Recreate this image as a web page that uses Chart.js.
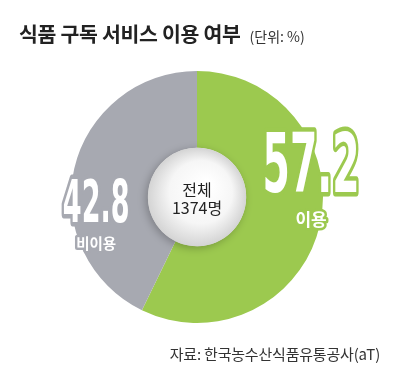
<!DOCTYPE html>
<html>
<head>
<meta charset="utf-8">
<script src="https://cdn.jsdelivr.net/npm/chart.js@4.4.1/dist/chart.umd.min.js"></script>
<style>
  html, body { margin: 0; padding: 0; background: #fff; }
  .wrap { position: relative; width: 400px; height: 387px; font-family: "Noto Sans CJK KR", sans-serif; }
  canvas { position: absolute; left: 0; top: 0; }
  .title { position: absolute; left: 19px; top: 18px; font-size: 20.5px; font-weight: 700; color: #222; letter-spacing: -0.3px; white-space: nowrap; }
  .unit { font-size: 14px; font-weight: 400; color: #333; margin-left: 9px; letter-spacing: 0; }
  .source { position: absolute; right: 20px; top: 343px; font-size: 15px; color: #333; letter-spacing: -0.2px; white-space: nowrap; }
</style>
</head>
<body>
<div class="wrap">
  <canvas id="pieChart" width="400" height="387"></canvas>
  <div class="title">식품 구독 서비스 이용 여부<span class="unit">(단위: %)</span></div>
  <div class="source">자료: 한국농수산식품유통공사(aT)</div>
</div>
<script>
// data
const labels = ['이용', '비이용'];
const values = [57.2, 42.8];
const sliceColors = ['#9cc94f', '#a7a9b1'];
const totalLines = ['전체', '1374명'];

// where the big numbers sit, relative to the pie (fraction of outer radius)
const labelSpots = [
  { dx: 0.905, dy: -0.27, width: 0.77, sub: 0.175, h: 59, subSize: 17 },
  { dx: -0.80, dy: 0.03, width: 0.53, sub: 0.37, h: 42, subSize: 14.5 }
];

function drawBigNumber(ctx, text, cx, cy, height, width, stroke) {
  const size = height / 0.72;
  ctx.save();
  ctx.font = 'bold ' + size + 'px "Liberation Sans Narrow", "DejaVu Sans Condensed", sans-serif';
  const w = ctx.measureText(text).width;
  const sx = width / w;
  ctx.translate(cx, cy + height / 2);
  ctx.scale(sx, 1);
  ctx.textAlign = 'center';
  ctx.textBaseline = 'alphabetic';
  ctx.lineJoin = 'round';
  ctx.lineWidth = 9;
  ctx.strokeStyle = stroke;
  ctx.strokeText(text, 0, 0);
  ctx.fillStyle = '#ffffff';
  ctx.fillText(text, 0, 0);
  ctx.restore();
}

const pieLabels = {
  id: 'pieLabels',
  afterDatasetsDraw(chart) {
    const ctx = chart.ctx;
    const meta = chart.getDatasetMeta(0);
    const arc = meta.data[0];
    const x = arc.x, y = arc.y;
    const r = arc.outerRadius, ir = arc.innerRadius;

    // centre ball
    ctx.save();
    ctx.shadowColor = 'rgba(0,0,0,0.25)';
    ctx.shadowBlur = 8;
    ctx.shadowOffsetX = -2;
    ctx.shadowOffsetY = 2;
    const g = ctx.createRadialGradient(x + ir * 0.2, y - ir * 0.25, ir * 0.1, x, y, ir);
    g.addColorStop(0, '#ffffff');
    g.addColorStop(0.6, '#f6f6f6');
    g.addColorStop(1, '#d4d4d4');
    ctx.fillStyle = g;
    ctx.beginPath();
    ctx.arc(x, y, ir, 0, Math.PI * 2);
    ctx.fill();
    ctx.restore();

    ctx.save();
    ctx.fillStyle = '#222';
    ctx.textAlign = 'center';
    ctx.textBaseline = 'middle';
    ctx.font = '16px "Noto Sans CJK KR", sans-serif';
    ctx.fillText(totalLines[0], x, y - 7);
    ctx.fillText(totalLines[1], x, y + 11);
    ctx.restore();

    // numbers and names
    values.forEach((v, i) => {
      const s = labelSpots[i];
      drawBigNumber(ctx, v.toFixed(1), x + s.dx * r, y + s.dy * r, s.h, s.width * r, sliceColors[i]);
      ctx.save();
      ctx.font = 'bold ' + s.subSize + 'px "Noto Sans CJK KR", sans-serif';
      ctx.textAlign = 'center';
      ctx.textBaseline = 'middle';
      ctx.lineJoin = 'round';
      ctx.lineWidth = 5;
      ctx.strokeStyle = sliceColors[i];
      ctx.strokeText(labels[i], x + s.dx * r, y + s.sub * r);
      ctx.fillStyle = '#ffffff';
      ctx.fillText(labels[i], x + s.dx * r, y + s.sub * r);
      ctx.restore();
    });
  }
};

const ctx = document.getElementById('pieChart').getContext('2d');
const pieChart = new Chart(ctx, {
  type: 'doughnut',
  data: {
    labels: labels,
    datasets: [{
      data: values,
      backgroundColor: sliceColors,
      borderWidth: 0
    }]
  },
  options: {
    responsive: false,
    animation: false,
    cutout: '39%',
    layout: {
      padding: { left: 71, right: 77, top: 71, bottom: 64 }
    },
    plugins: {
      legend: { display: false },
      tooltip: { enabled: false }
    }
  },
  plugins: [pieLabels]
});
</script>
</body>
</html>
